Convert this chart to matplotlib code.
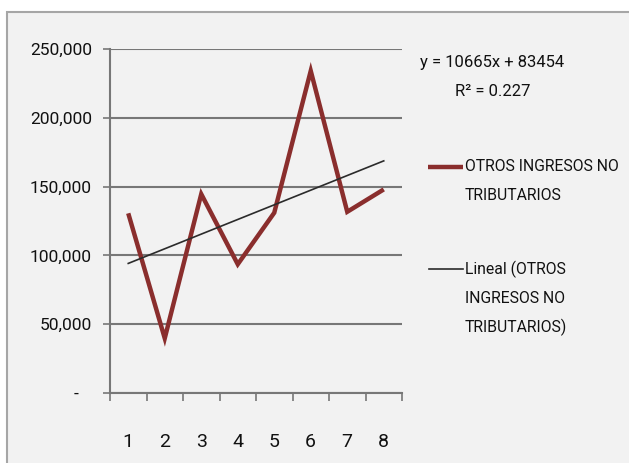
import matplotlib
matplotlib.use("Agg")
import matplotlib.pyplot as plt
from matplotlib import font_manager
from matplotlib.patches import Rectangle
from matplotlib.lines import Line2D
from matplotlib.ticker import FuncFormatter
import numpy as np

# ---- data ----
periods = [1, 2, 3, 4, 5, 6, 7, 8]
otros_ingresos = [130600, 39600, 144600, 93500, 131000, 234300, 131700, 148000]
trend_slope = 10665
trend_intercept = 83454
r_squared = 0.227
series_label = "OTROS INGRESOS NO\nTRIBUTARIOS"
trend_label = "Lineal (OTROS\nINGRESOS NO\nTRIBUTARIOS)"
y_ticks = [0, 50000, 100000, 150000, 200000, 250000]

# ---- font choice ----
names = {f.name for f in font_manager.fontManager.ttflist}
if "Liberation Sans Narrow" in names:
    FONT = dict(family=["Liberation Sans Narrow", "DejaVu Sans"])
else:
    FONT = dict(family=["Roboto", "DejaVu Sans"])

W, H = 629, 463
fig = plt.figure(figsize=(W / 100, H / 100), dpi=100)
fig.patch.set_facecolor("white")

# chart area background with border
bg = Rectangle((7 / W, -0.05), 1.1, 1 - 12 / H + 0.05, transform=fig.transFigure,
               facecolor="#f2f2f2", edgecolor="#a6a6a6", lw=1.5, zorder=-5)
fig.patches.append(bg)

left, right, top, bottom = 110, 402, 49.3, 392.7
ax = fig.add_axes([left / W, 1 - bottom / H, (right - left) / W, (bottom - top) / H])
ax.set_facecolor("none")
ax.set_zorder(2)

x = np.array(periods)
ax.plot(x, otros_ingresos, color="#8a2e2d", lw=3.2, solid_joinstyle="miter",
        solid_capstyle="butt", zorder=3)
trend = trend_slope * x + trend_intercept
ax.plot(x, trend, color="#2b2b2b", lw=1.2, zorder=4)

ax.set_xlim(0.5, 8.5)
ax.set_ylim(0, 250000)
ax.set_yticks(y_ticks)

def yfmt(v, pos):
    if v == 0:
        return "-   "
    return f"{int(v):,}"

ax.yaxis.set_major_formatter(FuncFormatter(yfmt))
ax.grid(axis="y", color="#777777", lw=1.5, zorder=1)
ax.set_axisbelow(True)

ax.set_xticks(periods)
ax.set_xticks(np.arange(0.5, 9.0, 1.0), minor=True)
ax.tick_params(axis="x", which="major", length=0, pad=29, labelsize=14, colors="#111111")
ax.tick_params(axis="x", which="minor", length=6, width=1.2, color="#777777", direction="out")
ax.tick_params(axis="y", which="major", length=5, width=1.2, color="#777777", pad=8,
               labelsize=12.5, labelcolor="#111111")
for lab in ax.get_xticklabels() + ax.get_yticklabels():
    lab.set(**FONT)

for s in ["top", "right"]:
    ax.spines[s].set_visible(False)
for s in ["left", "bottom"]:
    ax.spines[s].set_color("#777777")
    ax.spines[s].set_linewidth(1.5)

def fx(px):
    return px / W

def fy(py):
    return 1 - py / H

tsize = 12
lsize = 11.3
fig.text(fx(492), fy(62.7), f"y = {trend_slope}x + {trend_intercept}", ha="center", va="center",
         fontsize=tsize, color="#111111", **FONT)
fig.text(fx(493), fy(91.7), f"R² = {r_squared}", ha="center", va="center",
         fontsize=tsize, color="#111111", **FONT)

# legend
fig.lines.append(Line2D([fx(428), fx(463)], [fy(166.7), fy(166.7)], transform=fig.transFigure,
                        color="#8a2e2d", lw=3.2, solid_capstyle="butt"))
for i, line in enumerate(series_label.split("\n")):
    fig.text(fx(465), fy(166.7 + 29 * i), line, ha="left", va="center", fontsize=lsize,
             color="#111111", **FONT)
fig.lines.append(Line2D([fx(429), fx(463)], [fy(269.3), fy(269.3)], transform=fig.transFigure,
                        color="#2b2b2b", lw=1.2))
for i, line in enumerate(trend_label.split("\n")):
    fig.text(fx(465), fy(269.3 + 29 * i), line, ha="left", va="center", fontsize=lsize,
             color="#111111", **FONT)

fig.savefig("out.png", dpi=100)
